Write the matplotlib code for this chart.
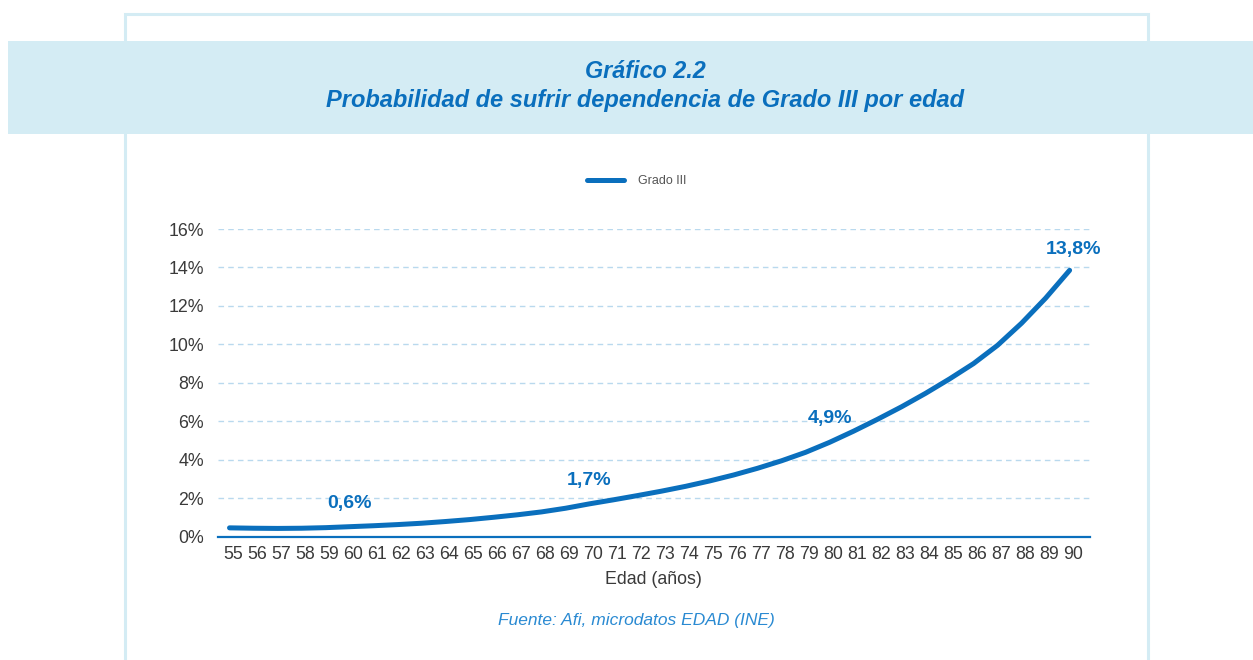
import matplotlib
matplotlib.use("Agg")
import matplotlib.pyplot as plt
import matplotlib.transforms as mtransforms
from matplotlib.patches import Rectangle

# --------------------------------------------------------------------------
# data
# --------------------------------------------------------------------------
ages = list(range(55, 91))
grado_iii = [0.45, 0.43, 0.42, 0.43, 0.46, 0.51, 0.56, 0.62, 0.69, 0.78,
             0.88, 1.00, 1.13, 1.28, 1.47, 1.70, 1.91, 2.13, 2.36, 2.61,
             2.89, 3.20, 3.55, 3.94, 4.38, 4.90, 5.48, 6.10, 6.75, 7.45,
             8.20, 9.00, 9.95, 11.10, 12.40, 13.85]
label_ages = [60, 70, 80, 90]
label_text = ["0,6%", "1,7%", "4,9%", "13,8%"]
y_ticks = [0, 2, 4, 6, 8, 10, 12, 14, 16]

BLUE = "#0a6fbd"
LIGHT = "#d4ecf4"
W, H = 1253, 660

plt.rcParams["font.family"] = ["Liberation Sans", "DejaVu Sans"]

fig = plt.figure(figsize=(W / 100, H / 100), dpi=100)

# outer frame + title banner
fig.patches.append(Rectangle((124.5 / W, -0.05), (1148 - 124.5) / W, 1.05 - 14 / H,
                             transform=fig.transFigure, fill=False,
                             ec=LIGHT, lw=2.2, zorder=0))
fig.patches.append(Rectangle((8 / W, 1 - 134 / H), 1.0, 93 / H,
                             transform=fig.transFigure, fc=LIGHT, ec="none",
                             zorder=1))
fig.text(645 / W, 1 - 72 / H, "Gráfico 2.2", ha="center", va="center",
         fontsize=16.8, fontweight="bold", style="italic", color=BLUE)
fig.text(645 / W, 1 - 100 / H,
         "Probabilidad de sufrir dependencia de Grado III por edad",
         ha="center", va="center", fontsize=17, fontweight="bold",
         style="italic", color=BLUE)

# axes
left, right, top, bottom = 218, 1090, 229, 536.5
ax = fig.add_axes([left / W, 1 - bottom / H, (right - left) / W, (bottom - top) / H])
ax.plot(ages, grado_iii, color=BLUE, lw=3.6, solid_capstyle="round",
        label="Grado III", zorder=3)

ax.set_xlim(54.52, 90.85)
ax.set_ylim(0, 16)
ax.set_yticks(y_ticks)
ax.set_yticklabels([f"{v}%" for v in y_ticks])
ax.set_xticks(ages)
ax.set_xticklabels([str(a) for a in ages])
ax.tick_params(axis="both", length=0, labelsize=12.8, colors="#3a3a3a")
ax.tick_params(axis="x", pad=7)
ax.tick_params(axis="y", pad=10)
offset = mtransforms.ScaledTranslation(0.035, 0, fig.dpi_scale_trans)
for lbl in ax.get_xticklabels():
    lbl.set_transform(lbl.get_transform() + offset)

ax.grid(axis="y", color="#b9d9ee", lw=1.0, linestyle=(0, (4, 3)))
ax.set_axisbelow(True)
for s in ["top", "right", "left"]:
    ax.spines[s].set_visible(False)
ax.spines["bottom"].set_color(BLUE)
ax.spines["bottom"].set_linewidth(1.6)
ax.spines["bottom"].set_zorder(4)

# data labels
for a, t in zip(label_ages, label_text):
    v = grado_iii[ages.index(a)]
    dx = 3 if a == 90 else 0
    ax.annotate(t, (a, v), xytext=(dx, 15 if a == 90 else 17),
                textcoords="offset points", ha="center", va="center",
                fontsize=14, fontweight="bold", color=BLUE)

# legend
leg = ax.legend(loc="center", bbox_to_anchor=(636.5 / W, 1 - 181 / H),
                bbox_transform=fig.transFigure, frameon=False, fontsize=9,
                handlelength=3.0, handletextpad=1.1, labelcolor="#555555")

fig.text(653 / W, 1 - 580 / H, "Edad (años)", ha="center", va="center",
         fontsize=12.8, color="#3a3a3a")
fig.text(636 / W, 1 - 621 / H, "Fuente: Afi, microdatos EDAD (INE)",
         ha="center", va="center", fontsize=12.5, style="italic",
         color="#2a8ad2")

fig.savefig("out.png", dpi=100)
